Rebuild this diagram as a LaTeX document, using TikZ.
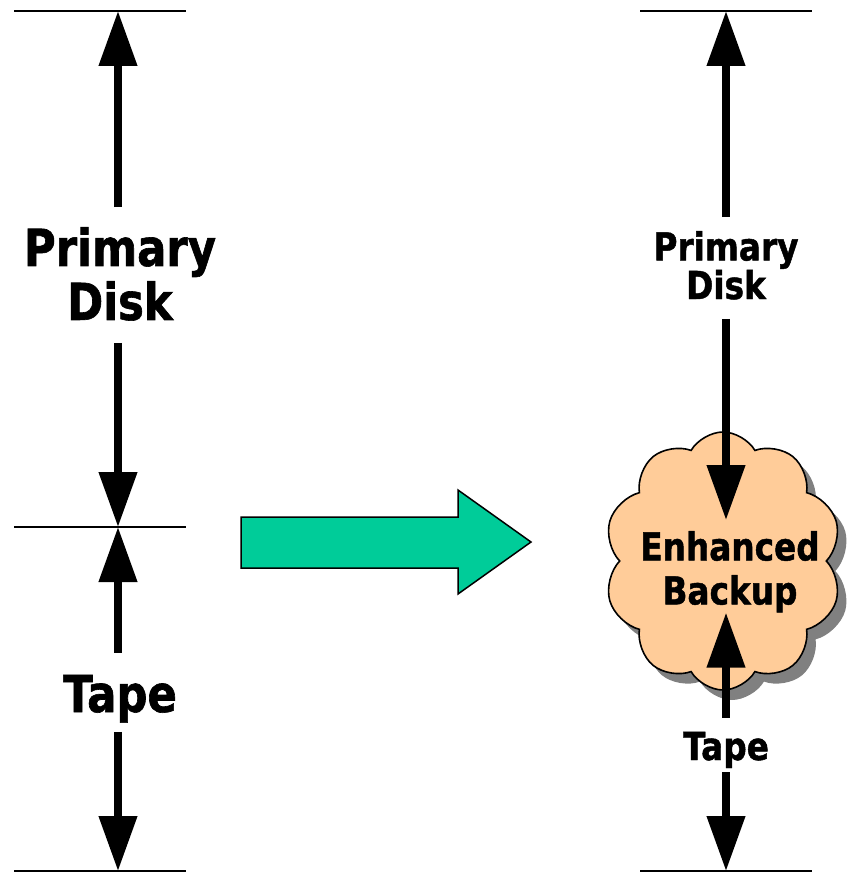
\documentclass[tikz,border=0pt]{standalone}
\usepackage{fontspec}
\usetikzlibrary{arrows.meta,shapes.symbols,shadows}
\newfontfamily\lblfont[FakeStretch=0.85,FakeBold=1.2]{DejaVu Sans}
\definecolor{peach}{HTML}{FFCC99}
\definecolor{seagreen}{HTML}{00CC99}
\definecolor{shadowgray}{HTML}{808080}
\tikzset{
  hline/.style={line width=2.8pt},
  dimarrow/.style={line width=7.5pt,-{Triangle[width=37pt,length=55pt]}},
  bigtext/.style={font=\lblfont\bfseries\fontsize{51}{54}\selectfont,inner sep=0pt,align=center},
  smalltext/.style={font=\lblfont\bfseries\fontsize{38.5}{37}\selectfont,inner sep=0pt,align=center},
  cloudtext/.style={font=\lblfont\bfseries\fontsize{38.5}{44}\selectfont,inner sep=0pt,align=center},
}
\begin{document}
\begin{tikzpicture}[x=1pt,y=-1pt]
\useasboundingbox (0,0) rectangle (852,875);
% left column
\coordinate (L1) at (118,11);
\coordinate (L2) at (118,527);
\coordinate (L3) at (118,871);
\draw[hline] (14,11) -- (186,11);
\draw[hline] (14,527) -- (186,527);
\draw[hline] (14,871) -- (186,871);
\node[bigtext,anchor=north] (pdL) at (120,227) {Primary\\Disk};
\node[bigtext,anchor=base] (tpL) at (120,712) {Tape};
\draw[dimarrow,shorten <=20pt] (pdL.north -| L1) -- (L1);
\draw[dimarrow,shorten <=22pt] (pdL.south -| L1) -- (L2);
\draw[dimarrow,shorten <=22pt] (tpL.north -| L2) -- (L2);
\draw[dimarrow,shorten <=9pt] (tpL.south -| L3) -- (L3);
% green arrow
\filldraw[fill=seagreen,draw=black,line width=1.5pt]
  (241,517) -- (458,517) -- (458,490) -- (531,542) -- (458,594) -- (458,568) -- (241,568) -- cycle;
% right column
\coordinate (R1) at (726,11);
\coordinate (R3) at (726,871);
\draw[hline] (640,11) -- (812,11);
\draw[hline] (640,871) -- (812,871);
\node[cloud,cloud puffs=10,cloud puff arc=120,cloud ignores aspect,draw,line width=1.6pt,fill=peach,
      minimum width=238pt,minimum height=258pt,inner sep=0pt,
      drop shadow={shadow xshift=9pt,shadow yshift=-10pt,opacity=1,fill=shadowgray}] (cl) at (723,561) {};
\node[smalltext,anchor=north] (pdR) at (726,231) {Primary\\Disk};
\node[cloudtext,anchor=north] (ebR) at (730,531) {Enhanced\\Backup};
\node[smalltext,anchor=base] (tpR) at (726,760) {Tape};
\draw[dimarrow,shorten <=14pt] (pdR.north -| R1) -- (R1);
\draw[dimarrow,shorten <=19pt,shorten >=11pt] (pdR.south -| R1) -- (ebR.north -| R1);
\draw[dimarrow,shorten <=14pt] (tpR.north -| R3) -- (ebR.south -| R3);
\draw[dimarrow,shorten <=4pt] (tpR.south -| R3) -- (R3);
\end{tikzpicture}
\end{document}
